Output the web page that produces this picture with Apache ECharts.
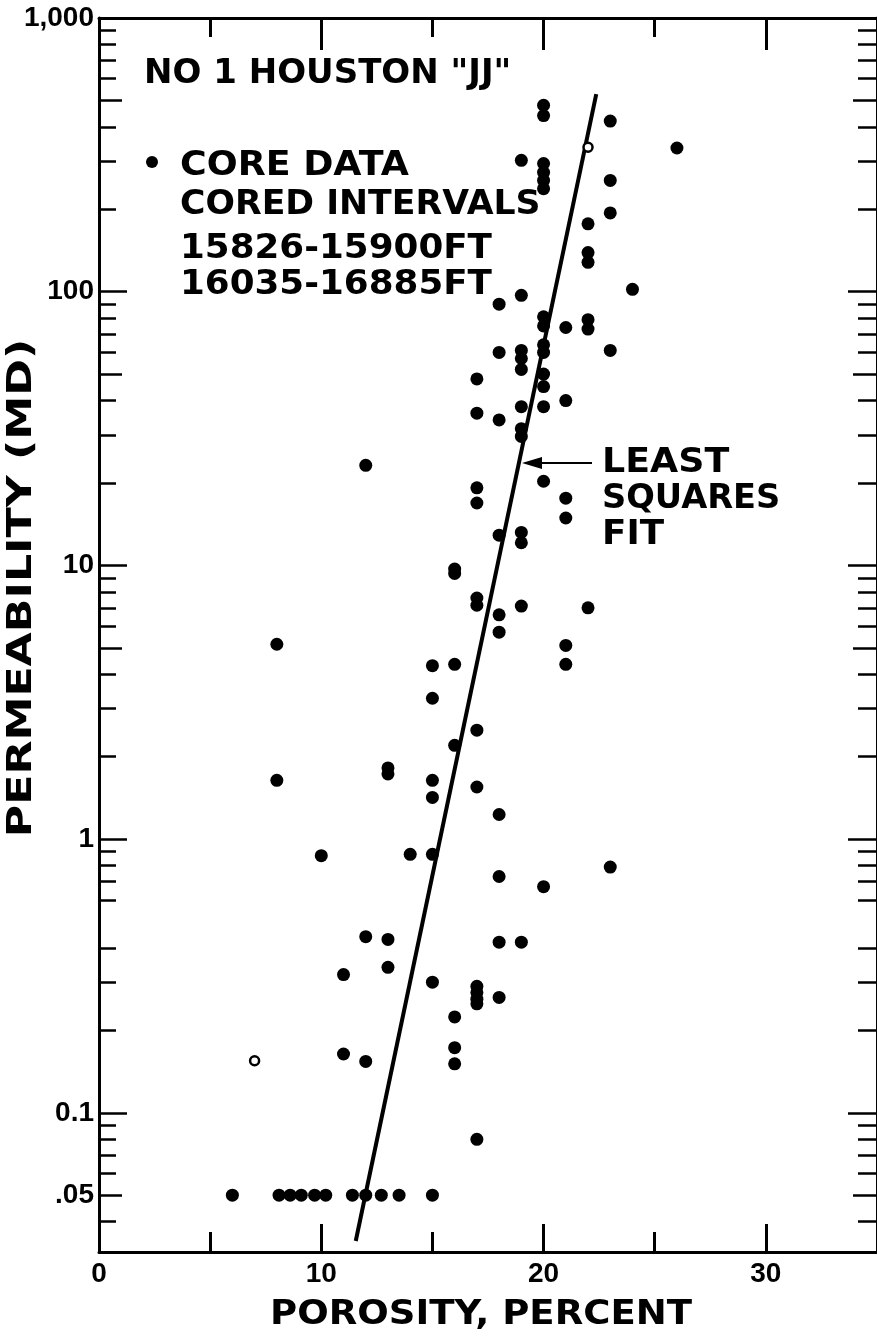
<!DOCTYPE html>
<html>
<head>
<meta charset="utf-8">
<script src="https://cdn.jsdelivr.net/npm/echarts@6/dist/echarts.min.js"></script>
<style>
html,body{margin:0;padding:0;background:#fff;}
#chart{width:877px;height:1339px;}
</style>
</head>
<body>
<div id="chart"></div>
<script>
// ---- data (porosity %, permeability md) ----
const coreTop = [[20,480],[20,440],[23,420],[26,335],[19,302],[20,294],[20,273],[20,255],[20,238],[23,255],[23,194],[22,177],[22,139],[22,128],[24,102],[19,97],[18,90]];
const coreTens = [[20,81],[20,75],[20,64],[20,60],[21,74],[22,79],[22,73],[23,61],[18,60],[19,61],[19,57],[19,52],[20,50],[20,45],[17,48],[21,40],[19,38],[20,38],[17,36],[18,34],[19,31.6],[19,29.6],[12,23.2],[20,20.3],[17,19.2],[17,16.9],[21,17.6],[21,14.9],[18,12.9],[19,13.2],[19,12.1]];
const coreOnes = [[16,9.7],[16,9.35],[17,7.6],[17,7.15],[19,7.1],[22,7.0],[18,6.6],[18,5.7],[8,5.15],[21,5.1],[21,4.35],[15,4.3],[16,4.35],[15,3.27],[17,2.5],[16,2.2],[8,1.64],[13,1.82],[13,1.73],[15,1.64],[15,1.42],[17,1.55],[18,1.23]];
const coreTenths = [[10,0.87],[14,0.88],[15,0.88],[23,0.79],[18,0.73],[20,0.67],[12,0.44],[13,0.43],[18,0.42],[19,0.42],[11,0.32],[13,0.34],[15,0.30],[17,0.29],[17,0.275],[17,0.26],[17,0.25],[18,0.264],[16,0.224],[16,0.173],[16,0.151],[11,0.164],[12,0.154],[17,0.08]];
const coreFloor = [[6,0.05],[8.1,0.05],[8.6,0.05],[9.1,0.05],[9.7,0.05],[10.2,0.05],[11.4,0.05],[12.0,0.05],[12.7,0.05],[13.5,0.05],[15.0,0.05]];
const openPoints = [[22,337],[7,0.155]];
const fitLine = [[11.55,0.034],[22.37,527]];

// ---- axis ticks / labels ----
const xLabelValues = [0,10,20,30];
const xMajorTicks = [10,20,30];
const xMinorTicks = [5,15,25];
const yLabelValues = [0.05,0.1,1,10,100,1000];
const yLabelTexts = ['.05','0.1','1','10','100','1,000'];
const yMajorTicks = [0.1,1,10,100,1000];
const yMidTicks = [0.05,5,50,500];
const yMinorTicks = [0.04,0.06,0.07,0.08,0.09,0.2,0.3,0.4,0.6,0.7,0.8,0.9,2,3,4,6,7,8,9,20,30,40,60,70,80,90,200,300,400,600,700,800,900];

const coreData = [].concat(coreTop, coreTens, coreOnes, coreTenths, coreFloor);

const chart = echarts.init(document.getElementById('chart'));
const BLACK = '#000';
const numFont = '"Liberation Sans", Arial, sans-serif';
const letterFont = 'bold 34px "DejaVu Sans", sans-serif';

function xAx(pos, ticks, len, showLine, showLabel) {
  return {
    type: 'value', min: 0, max: 35, position: pos,
    axisLine: {show: showLine, onZero: false, lineStyle: {color: BLACK, width: 3}},
    axisTick: {show: true, inside: true, length: len, customValues: ticks, lineStyle: {color: BLACK, width: 3}},
    axisLabel: showLabel ? {show: true, customValues: xLabelValues, fontSize: 28, fontWeight: 'bold', color: BLACK, fontFamily: numFont, margin: 8} : {show: false},
    splitLine: {show: false}
  };
}
function yAx(pos, ticks, len, showLine, showLabel) {
  return {
    type: 'log', logBase: 10, min: 0.031, max: 1000, position: pos,
    axisLine: {show: showLine, onZero: false, lineStyle: {color: BLACK, width: 3}},
    axisTick: {show: true, inside: true, length: len, customValues: ticks, lineStyle: {color: BLACK, width: 2.5}},
    axisLabel: showLabel ? {
      show: true, customValues: yLabelValues, fontSize: 28, fontWeight: 'bold', color: BLACK, fontFamily: numFont, margin: 5,
      formatter: function (v) {
        for (let i = 0; i < yLabelValues.length; i++) {
          if (Math.abs(v - yLabelValues[i]) / yLabelValues[i] < 1e-6) return yLabelTexts[i];
        }
        return '';
      }
    } : {show: false},
    splitLine: {show: false},
    minorTick: {show: false}
  };
}

function txt(x, y, s, sx, align, extra) {
  return Object.assign({
    type: 'text', x: x, y: y, z: 100, scaleX: sx || 1,
    style: {text: s, font: letterFont, fill: BLACK, textAlign: align || 'left', textVerticalAlign: 'middle'}
  }, extra || {});
}

chart.setOption({
  animation: false,
  backgroundColor: '#fff',
  grid: {left: 99, right: 0, top: 18, bottom: 87, containLabel: false},
  xAxis: [
    xAx('bottom', xMajorTicks, 28, true, true),
    xAx('bottom', xMinorTicks, 20, false, false),
    xAx('top', xMajorTicks, 32, true, false),
    xAx('top', xMinorTicks, 19, false, false)
  ],
  yAxis: [
    yAx('left', yMajorTicks, 28, true, true),
    yAx('left', yMidTicks, 23, false, false),
    yAx('left', yMinorTicks, 17, false, false),
    yAx('right', yMajorTicks, 29, true, false),
    yAx('right', yMidTicks, 24, false, false),
    yAx('right', yMinorTicks, 19, false, false)
  ],
  series: [
    {
      type: 'line', data: fitLine, xAxisIndex: 0, yAxisIndex: 0,
      showSymbol: false, symbol: 'none', lineStyle: {color: BLACK, width: 4}, z: 3
    },
    {
      type: 'scatter', data: coreData, xAxisIndex: 0, yAxisIndex: 0,
      symbol: 'circle', symbolSize: 13, itemStyle: {color: BLACK, opacity: 1}, z: 4
    },
    {
      type: 'scatter', data: openPoints, xAxisIndex: 0, yAxisIndex: 0,
      symbol: 'circle', symbolSize: 9, itemStyle: {color: '#fff', borderColor: BLACK, borderWidth: 2.5, opacity: 1}, z: 5
    }
  ],
  graphic: [
    txt(144, 74, 'NO 1 HOUSTON "JJ"', 1.0),
    {type: 'circle', z: 100, shape: {cx: 152, cy: 162, r: 6}, style: {fill: BLACK}},
    txt(180, 166, 'CORE DATA', 1.07),
    txt(180, 205, 'CORED INTERVALS', 1.02),
    txt(180, 249, '15826-15900FT', 1.05),
    txt(180, 285, '16035-16885FT', 1.05),
    txt(602, 463, 'LEAST', 1.07),
    txt(602, 499, 'SQUARES', 0.99),
    txt(602, 535, 'FIT', 1.05),
    {type: 'line', z: 100, shape: {x1: 592, y1: 463, x2: 536, y2: 463}, style: {stroke: BLACK, lineWidth: 2}},
    {type: 'polygon', z: 100, shape: {points: [[522, 463], [542, 457], [542, 469]]}, style: {fill: BLACK}},
    txt(481, 1315, 'POROSITY, PERCENT', 1.09, 'center'),
    txt(22, 588, 'PERMEABILITY (MD)', 1.3, 'center', {rotation: Math.PI / 2})
  ]
});
</script>
</body>
</html>
